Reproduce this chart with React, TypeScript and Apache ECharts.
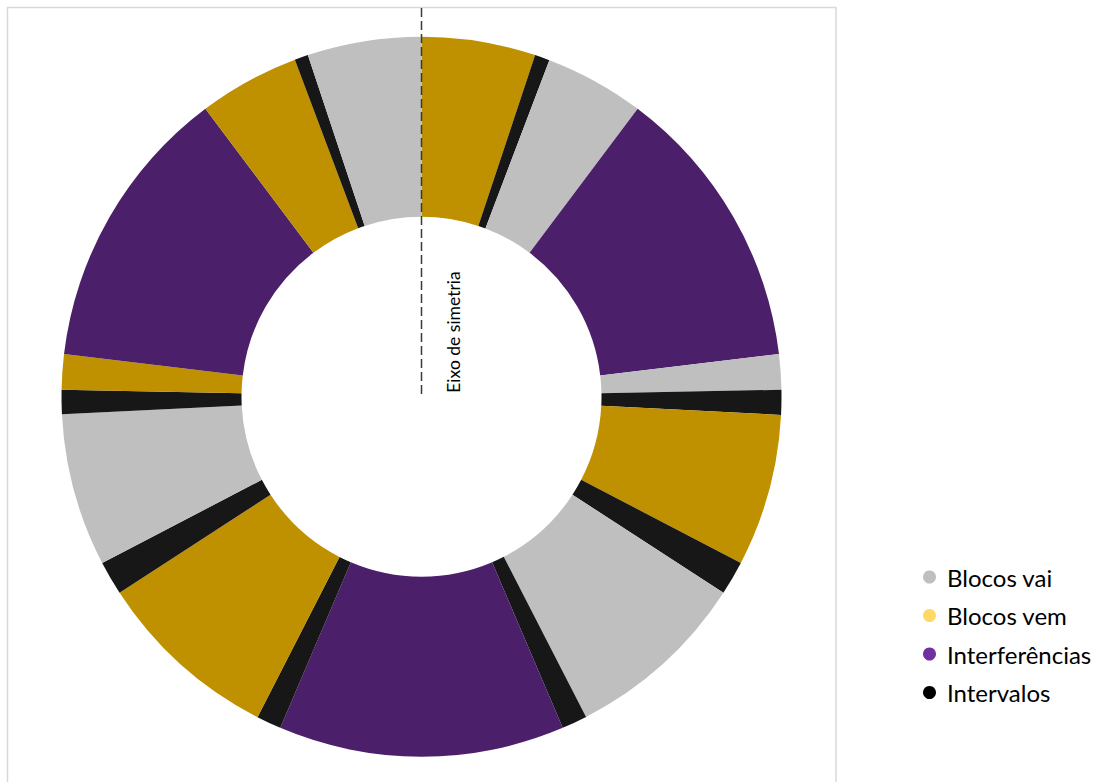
import React, { useEffect, useRef } from "react";
import * as echarts from "echarts";

// Slices, clockwise from 12 o'clock (values in degrees of the cycle)
const sliceCategories = [
  "Blocos vem", "Intervalos", "Blocos vai", "Interferências", "Blocos vai",
  "Intervalos", "Blocos vem", "Intervalos", "Blocos vai", "Intervalos",
  "Interferências", "Intervalos", "Blocos vem", "Intervalos", "Blocos vai",
  "Intervalos", "Blocos vem", "Interferências", "Blocos vem", "Intervalos",
  "Blocos vai",
];
const sliceValues = [
  18.4, 2.4, 16.1, 46.3, 5.7,
  4.0, 24.6, 5.5, 29.8, 4.1,
  46.2, 4.0, 29.9, 5.5, 24.7,
  3.9, 5.7, 46.3, 16.3, 2.2,
  18.4,
];

const legendNames = ["Blocos vai", "Blocos vem", "Interferências", "Intervalos"];
const sliceColors = ["#BFBFBF", "#BF9000", "#4B1F69", "#171717"];
const legendColors = ["#BFBFBF", "#FFD966", "#7030A0", "#000000"];

const axisLabel = "Eixo de simetria";

export default function App() {
  const ref = useRef<HTMLDivElement>(null);
  useEffect(() => {
    document.body.style.margin = "0";
    const chart = echarts.init(ref.current!, null, { renderer: "svg" });
    const colorOf = (name: string) => sliceColors[legendNames.indexOf(name)];
    chart.setOption({
      animation: false,
      backgroundColor: "#ffffff",
      textStyle: { fontFamily: "Lato" },
      legend: {
        orient: "vertical",
        left: 918,
        top: 560,
        itemWidth: 13,
        itemHeight: 13,
        itemGap: 14.5,
        icon: "circle",
        selectedMode: false,
        textStyle: { fontSize: 24, lineHeight: 24, color: "#000000", fontFamily: "Lato", padding: [0, 0, 0, 6] },
        data: legendNames.map((n, i) => ({ name: n, itemStyle: { color: legendColors[i] } })),
      },
      graphic: [
        {
          type: "rect",
          z: 0,
          shape: { x: 7.5, y: 7.5, width: 828.5, height: 800 },
          style: { fill: "none", stroke: "#D9D9D9", lineWidth: 1.5 },
        },
        {
          type: "line",
          z: 100,
          shape: { x1: 421.5, y1: 8, x2: 421.5, y2: 397 },
          style: { stroke: "#3A3A3A", lineWidth: 1.5, lineDash: [9, 4] },
        },
        {
          type: "text",
          z: 100,
          x: 453,
          y: 332,
          rotation: Math.PI / 2,
          style: {
            text: axisLabel,
            fontSize: 17.5,
            fontFamily: "Lato",
            fill: "#000000",
            align: "center",
            verticalAlign: "middle",
          },
        },
      ],
      series: [
        {
          type: "pie",
          center: [421.5, 396.7],
          radius: [180, 360],
          startAngle: 90,
          clockwise: true,
          minAngle: 0,
          avoidLabelOverlap: false,
          label: { show: false },
          labelLine: { show: false },
          emphasis: { disabled: true },
          itemStyle: { borderWidth: 0 },
          data: sliceValues.map((v, i) => ({
            name: sliceCategories[i],
            value: v,
            itemStyle: { color: colorOf(sliceCategories[i]) },
          })),
        },
      ],
    });
    return () => chart.dispose();
  }, []);
  return <div ref={ref} style={{ width: 1113, height: 782 }} />;
}
